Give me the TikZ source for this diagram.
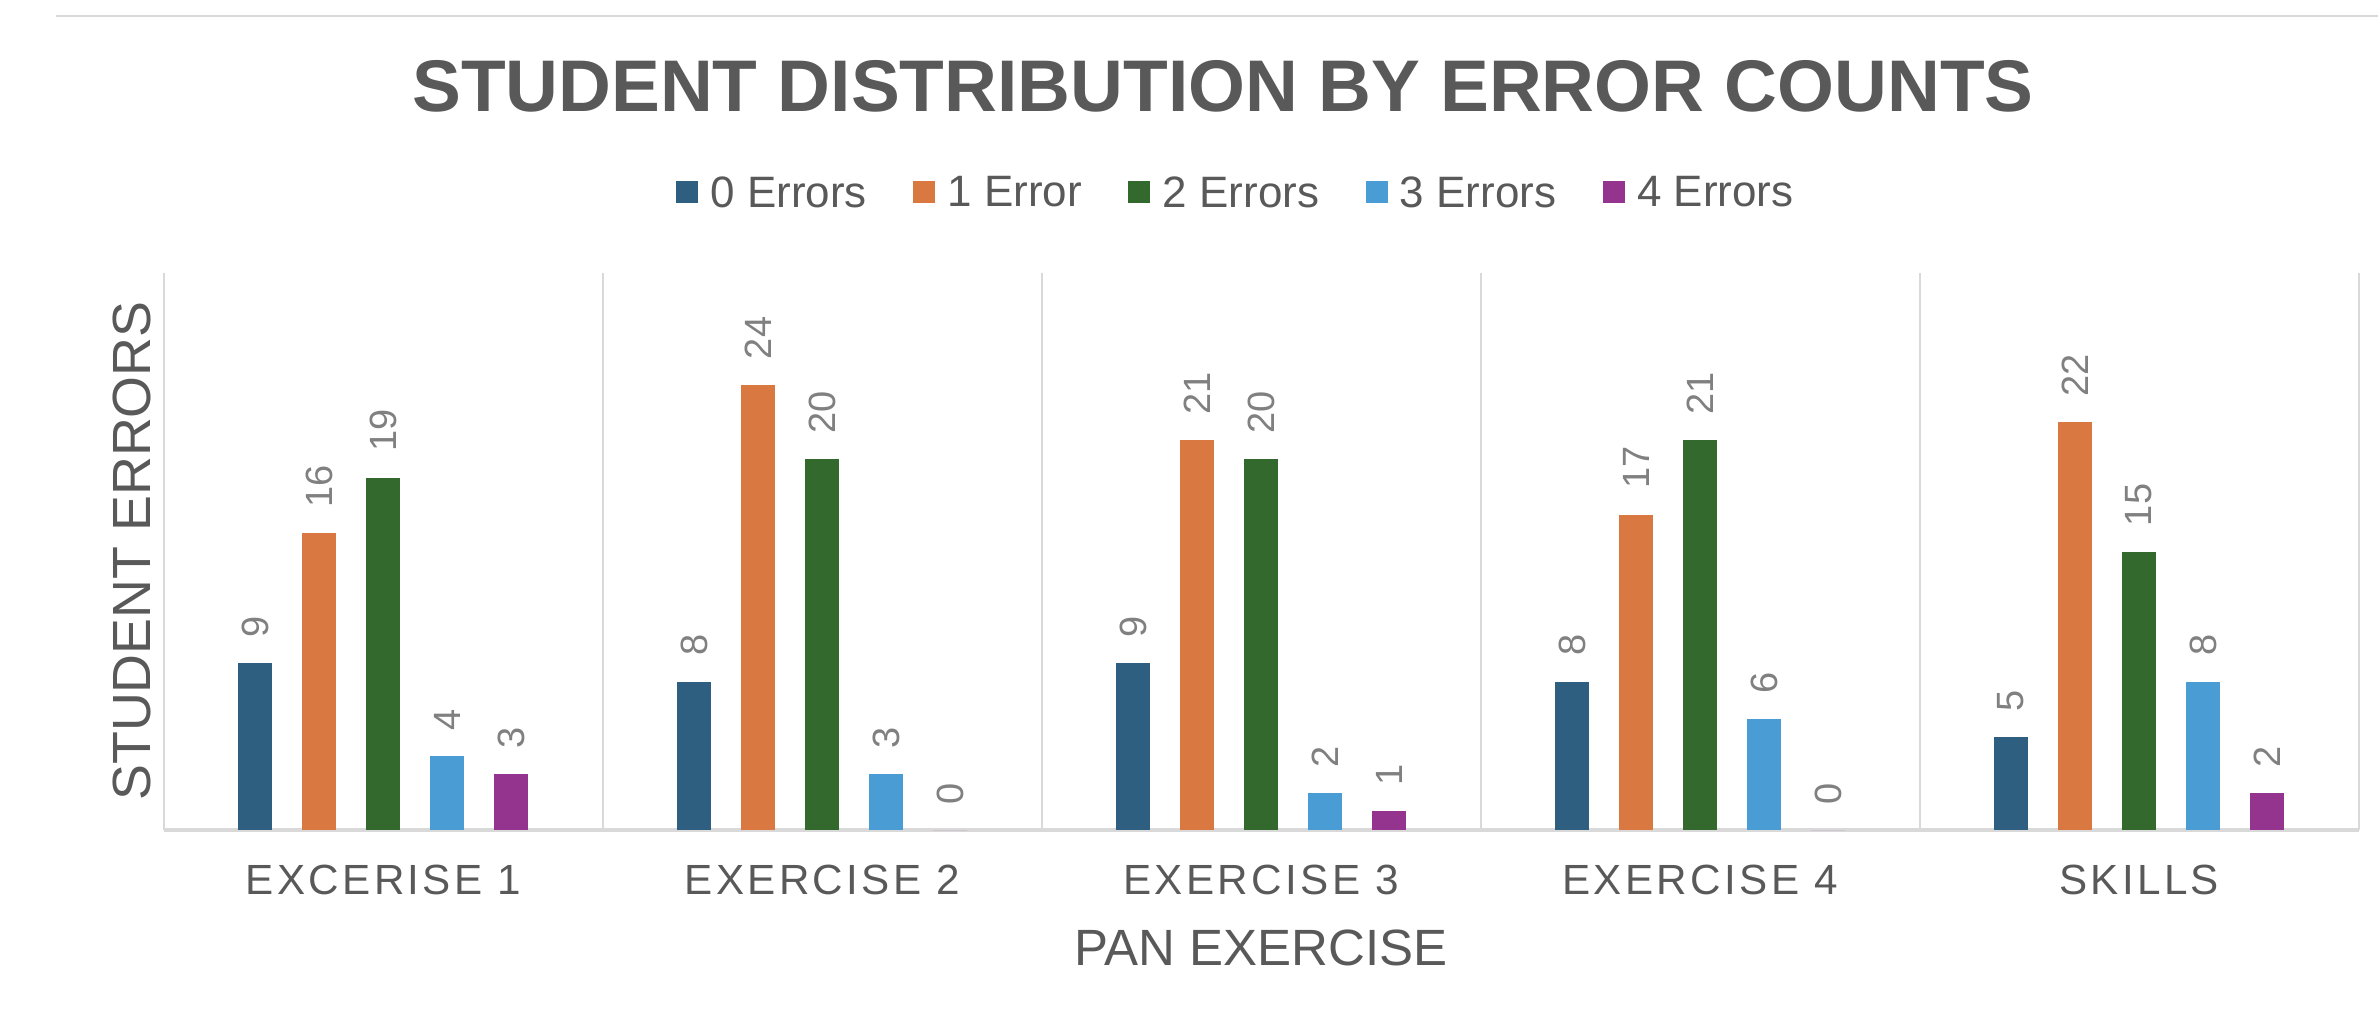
\documentclass[tikz,border=0pt]{standalone}
\usepackage{fontspec}
\setmainfont{Liberation Sans}
\usepackage{tikz}
\usetikzlibrary{positioning}
\definecolor{err0}{HTML}{2E5E80}
\definecolor{err1}{HTML}{DA7842}
\definecolor{err2}{HTML}{33692D}
\definecolor{err3}{HTML}{4A9DD4}
\definecolor{err4}{HTML}{94348F}
\definecolor{txtgray}{HTML}{595959}
\definecolor{valgray}{HTML}{808080}
\definecolor{gridgray}{HTML}{D9D9D9}
\tikzset{
  gridline/.style={draw=gridgray, line width=0.57pt},
  valuelabel/.style={rotate=90, anchor=west, inner sep=0pt, text=valgray,
    font=\fontsize{10.8}{12}\selectfont},
  catlabel/.style={inner sep=0pt, text=txtgray,
    font=\fontsize{12}{14}\selectfont\addfontfeature{LetterSpace=8}},
  axistitle/.style={inner sep=0pt, text=txtgray, font=\fontsize{14.5}{17}\selectfont},
  legkey/.style={fill=#1, minimum size=0.22cm, inner sep=0pt},
  legtext/.style={inner sep=0pt, text=txtgray, font=\fontsize{12.5}{15}\selectfont}
}

\begin{document}
\begin{tikzpicture}[x=0.01cm, y=-0.01cm]
    \useasboundingbox[fill=white] (0,0) rectangle (2378,1011);
    \draw[draw=gridgray, line width=0.8pt] (56,16) -- (2378,16);
    % title and legend
    \node[text=txtgray, font=\bfseries\fontsize{20.8}{25}\selectfont] (title) at (1223,86) {STUDENT DISTRIBUTION BY ERROR COUNTS};
    \node[legkey=err0] (key0) at (687,192) {};
    \node[legtext, right=0.11cm of key0] (lab0) {0 Errors};
    \node[legkey=err1, right=0.45cm of lab0] (key1) {};
    \node[legtext, right=0.11cm of key1] (lab1) {1 Error};
    \node[legkey=err2, right=0.45cm of lab1] (key2) {};
    \node[legtext, right=0.11cm of key2] (lab2) {2 Errors};
    \node[legkey=err3, right=0.45cm of lab2] (key3) {};
    \node[legtext, right=0.11cm of key3] (lab3) {3 Errors};
    \node[legkey=err4, right=0.45cm of lab3] (key4) {};
    \node[legtext, right=0.11cm of key4] (lab4) {4 Errors};
    % frame of the plot
    \foreach \c in {0,...,5}
      \draw[gridline] (164+438.9*\c,273) -- (164+438.9*\c,830);
    \draw[draw=gridgray, line width=1.1pt] (164,830) -- (2359,830);
    % bars and values
    \foreach \vals [count=\c from 0] in {{9,16,19,4,3},{8,24,20,3,0},{9,21,20,2,1},{8,17,21,6,0},{5,22,15,8,2}}
      \foreach \v [count=\s from 0] in \vals {
        \pgfmathsetmacro\xc{383.45+438.9*\c+64*(\s-2)}
        \pgfmathsetmacro\yt{830-18.55*\v}
        \fill[err\s] (\xc-17,830) rectangle (\xc+17,\yt);
        \node[valuelabel] (val-\c-\s) at (\xc,\yt-25) {\v};
      }
    \foreach \name [count=\c from 0] in {EXCERISE 1,EXERCISE 2,EXERCISE 3,EXERCISE 4,SKILLS}
      \node[catlabel] (cat-\c) at (383.45+438.9*\c,880) {\name};
    % axis titles
    \node[axistitle] (xtitle) at (1261,948) {PAN EXERCISE};
    \node[axistitle, font=\fontsize{15.3}{18}\selectfont, rotate=90] (ytitle) at (132,551) {STUDENT ERRORS};
\end{tikzpicture}
\end{document}
